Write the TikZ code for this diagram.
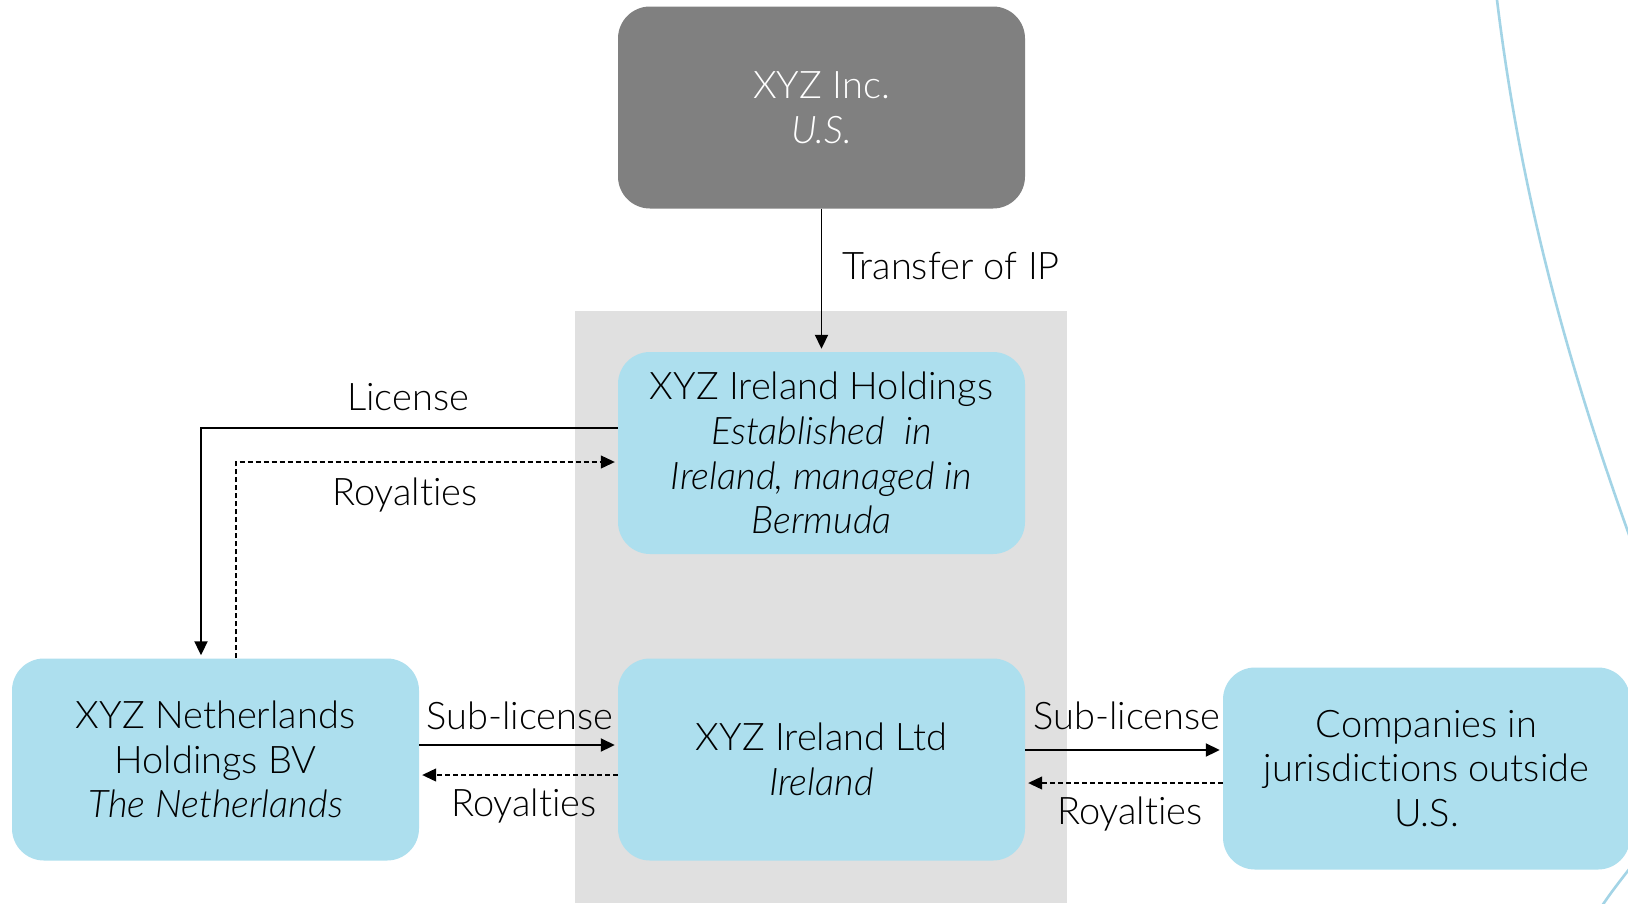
\documentclass[tikz,border=0pt]{standalone}
\usepackage{fontspec}
\IfFontExistsTF{Lato Light}{\setmainfont{Lato Light}[ItalicFont={Lato Light Italic},Ligatures=NoCommon]}{\setmainfont{Lato}[Ligatures=NoCommon]}
\usetikzlibrary{arrows.meta,calc}
\definecolor{boxblue}{HTML}{ADDFEE}
\definecolor{topgray}{HTML}{808080}
\definecolor{bggray}{HTML}{E0E0E0}
\definecolor{curveblue}{HTML}{A3D4E6}
\tikzset{
  entity/.style={rounded corners=32pt, minimum width=407pt, minimum height=202pt, align=center, inner sep=0pt, font=\fontsize{38}{44.6}\selectfont},
  bluebox/.style={entity, fill=boxblue, text=black},
  graybox/.style={entity, fill=topgray, text=white},
  flow/.style={line width=1.9pt, -{Triangle[length=14pt,width=13pt]}, shorten >=3pt},
  payback/.style={line width=1.1pt, dash pattern=on 5pt off 3pt, -{Triangle[length=14pt,width=13pt]}, shorten >=3pt},
  lbl/.style={font=\fontsize{38}{44.6}\selectfont, inner sep=0pt},
  deco/.style={line width=2.6pt, curveblue}
}
\begin{document}
\begin{tikzpicture}[x=1pt,y=-1pt]
\useasboundingbox (0,0) rectangle (1628,903);
\fill[white] (0,0) rectangle (1628,903);
\fill[bggray] (575,311) rectangle (1067,903);
\draw[deco] (1497,0) .. controls (1519,180) and (1561,350) .. (1640,565);
\draw[deco] (1640,855) .. controls (1625,875) and (1612,890) .. (1598,912);

\node[graybox] (inc) at (821.5,107.5) {XYZ Inc.\\\textit{U.S.}};
\node[bluebox] (hold) at (821.5,453) {XYZ Ireland Holdings\\\textit{Established\ \ in}\\\textit{Ireland, managed in}\\\textit{Bermuda}};
\node[bluebox] (neth) at (215.5,759.5) {XYZ Netherlands\\Holdings BV\\\textit{The Netherlands}};
\node[bluebox] (ltd) at (821.5,759.5) {XYZ Ireland Ltd\\\textit{Ireland}};
\node[bluebox] (comp) at (1426.5,768.5) {Companies in\\jurisdictions outside\\U.S.};

\draw[flow] (inc.south) -- (hold.north);
\node[lbl, anchor=west] (tip) at (842,266) {Transfer of IP};

\draw[flow] ([yshift=25pt]hold.west) -| ([xshift=-14.5pt]neth.north);
\node[lbl] (licl) at (408,397) {License};
\draw[payback] ([xshift=20.5pt]neth.north) |- ([yshift=-9pt]hold.west);
\node[lbl] (roy1) at (405,495) {Royalties};

\draw[flow] ([yshift=14.5pt]neth.east) -- ([yshift=14.5pt]neth.east -| ltd.west);
\node[lbl] (sub1) at (520,716) {Sub-license};
\draw[payback] ([yshift=-15.5pt]ltd.west) -- ([yshift=-15.5pt]ltd.west -| neth.east);
\node[lbl] (roy2) at (524,806) {Royalties};

\draw[flow] ([yshift=9.5pt]ltd.east) -- ([yshift=9.5pt]ltd.east -| comp.west);
\node[lbl] (sub2) at (1127,716) {Sub-license};
\draw[payback] ([yshift=-23.5pt]ltd.east -| comp.west) -- ([yshift=-23.5pt]ltd.east);
\node[lbl] (roy3) at (1130,814) {Royalties};
\end{tikzpicture}
\end{document}
